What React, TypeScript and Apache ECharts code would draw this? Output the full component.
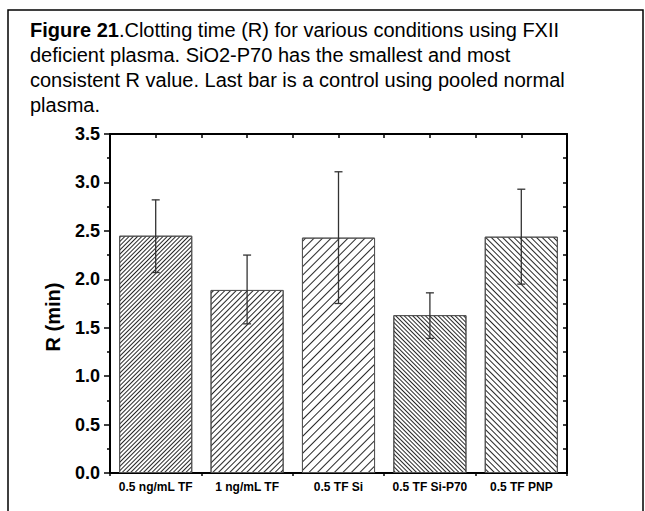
import React, { useEffect, useRef } from 'react';
import * as echarts from 'echarts';

const categories = ['0.5 ng/mL TF', '1 ng/mL TF', '0.5 TF Si', '0.5 TF Si-P70', '0.5 TF PNP'];
const meanR = [2.45, 1.89, 2.43, 1.63, 2.44];
const errLow = [2.07, 1.54, 1.75, 1.39, 1.95];
const errHigh = [2.82, 2.25, 3.11, 1.86, 2.93];
const yTickLabels = ['0.0', '0.5', '1.0', '1.5', '2.0', '2.5', '3.0', '3.5'];
const captionBold = 'Figure 21';
const captionLines = [
  '.Clotting time (R) for various conditions using FXII',
  'deficient plasma. SiO2-P70 has the smallest and most',
  'consistent R value. Last bar is a control using pooled normal',
  'plasma.',
];
const yName = 'R (min)';

const FONT = '"Liberation Sans", Arial, Helvetica, sans-serif';

const hatchStyles = [
  { rotation: -Math.PI / 4, gap: 2 },
  { rotation: -Math.PI / 4, gap: 3 },
  { rotation: -Math.PI / 4, gap: 5 },
  { rotation: Math.PI / 4, gap: 2 },
  { rotation: Math.PI / 4, gap: 3 },
];

export default function App() {
  const ref = useRef<HTMLDivElement>(null);
  useEffect(() => {
    if (!ref.current) return;
    const chart = echarts.init(ref.current, null, { renderer: 'svg' });
    const yMax = Number(yTickLabels[yTickLabels.length - 1]);
    const axisLineStyle = { color: '#000', width: 2 };
    const option: any = {
      animation: false,
      backgroundColor: '#fff',
      title: {
        text: '{b|' + captionBold + '}' + captionLines.join('\n'),
        left: 30,
        top: 17,
        padding: 0,
        textStyle: {
          fontFamily: FONT,
          fontSize: 20,
          fontWeight: 'normal',
          color: '#000',
          lineHeight: 25,
          rich: {
            b: { fontFamily: FONT, fontSize: 20, fontWeight: 'bold', color: '#000', lineHeight: 25 },
          },
        },
      },
      graphic: [
        {
          type: 'rect',
          shape: { x: 8, y: 10, width: 635, height: 520 },
          style: { fill: 'none', stroke: '#000', lineWidth: 1.5 },
          silent: true,
        },
        {
          type: 'text',
          x: 53,
          y: 317,
          rotation: Math.PI / 2,
          style: {
            text: yName,
            fontFamily: FONT,
            fontSize: 20,
            fontWeight: 'bold',
            fill: '#000',
            align: 'center',
            verticalAlign: 'middle',
          },
        },
      ],
      grid: { left: 110, right: 78, top: 134, bottom: 38, containLabel: false },
      xAxis: [
        {
          type: 'category',
          data: categories,
          position: 'bottom',
          axisLine: { show: true, lineStyle: axisLineStyle },
          axisTick: { show: true, alignWithLabel: true, inside: true, length: 6, lineStyle: { color: '#000', width: 1.5 } },
          axisLabel: { fontFamily: FONT, fontSize: 12, fontWeight: 'bold', color: '#000', margin: 8, interval: 0 },
          splitLine: { show: false },
        },
        {
          type: 'value',
          position: 'top',
          min: 0,
          max: categories.length * 2,
          interval: 1,
          axisLine: { show: true, onZero: false, lineStyle: axisLineStyle },
          axisTick: { show: true, inside: true, length: 4, lineStyle: { color: '#000', width: 1.5 } },
          axisLabel: { show: false },
          splitLine: { show: false },
        },
        {
          type: 'value',
          position: 'bottom',
          min: 0,
          max: categories.length,
          interval: 1,
          axisLine: { show: false, onZero: false },
          axisTick: { show: true, inside: false, length: 3, lineStyle: { color: '#000', width: 1.5 } },
          axisLabel: { show: false },
          splitLine: { show: false },
        },
      ],
      yAxis: [
        {
          type: 'value',
          position: 'left',
          min: 0,
          max: yMax,
          interval: 0.5,
          axisLine: { show: true, onZero: false, lineStyle: axisLineStyle },
          axisTick: { show: true, inside: false, length: 6, lineStyle: { color: '#000', width: 1.5 } },
          minorTick: { show: true, splitNumber: 2, length: 3, lineStyle: { color: '#000', width: 1.5 } },
          axisLabel: {
            fontFamily: FONT,
            fontSize: 18,
            fontWeight: 'bold',
            color: '#000',
            margin: 10,
            formatter: (v: number) => {
              const idx = Math.round(v / 0.5);
              return yTickLabels[idx] ?? v.toFixed(1);
            },
          },
          splitLine: { show: false },
        },
        {
          type: 'value',
          position: 'right',
          min: 0,
          max: yMax,
          interval: 0.25,
          axisLine: { show: true, onZero: false, lineStyle: axisLineStyle },
          axisTick: { show: true, inside: true, length: 4, lineStyle: { color: '#000', width: 1.5 } },
          axisLabel: { show: false },
          splitLine: { show: false },
        },
      ],
      series: [
        {
          type: 'bar',
          xAxisIndex: 0,
          yAxisIndex: 0,
          barWidth: '80%',
          data: meanR.map((v, i) => ({
            value: v,
            itemStyle: {
              color: '#fff',
              borderColor: '#555',
              borderWidth: 1,
              decal: {
                symbol: 'rect',
                symbolSize: 1,
                dashArrayX: [1, 0],
                dashArrayY: [1, hatchStyles[i].gap],
                rotation: hatchStyles[i].rotation,
                color: 'rgba(0,0,0,0.85)',
                backgroundColor: '#fff',
              },
            },
          })),
          z: 2,
        },
        {
          type: 'custom',
          xAxisIndex: 0,
          yAxisIndex: 0,
          z: 5,
          data: categories.map((_, i) => [i, errLow[i], errHigh[i]]),
          encode: { x: 0, y: [1, 2] },
          renderItem: (params: any, api: any) => {
            const x = api.value(0);
            const lo = api.coord([x, api.value(1)]);
            const hi = api.coord([x, api.value(2)]);
            const hw = 4;
            const style = { stroke: '#333', lineWidth: 1.3 };
            return {
              type: 'group',
              children: [
                { type: 'line', shape: { x1: lo[0], y1: lo[1], x2: hi[0], y2: hi[1] }, style },
                { type: 'line', shape: { x1: hi[0] - hw, y1: hi[1], x2: hi[0] + hw, y2: hi[1] }, style },
                { type: 'line', shape: { x1: lo[0] - hw, y1: lo[1], x2: lo[0] + hw, y2: lo[1] }, style },
              ],
            };
          },
        },
      ],
    };
    chart.setOption(option);
    return () => chart.dispose();
  }, []);
  return (
    <div
      ref={ref}
      style={{ position: 'fixed', left: 0, top: 0, width: 645, height: 511, background: '#fff' }}
    />
  );
}
